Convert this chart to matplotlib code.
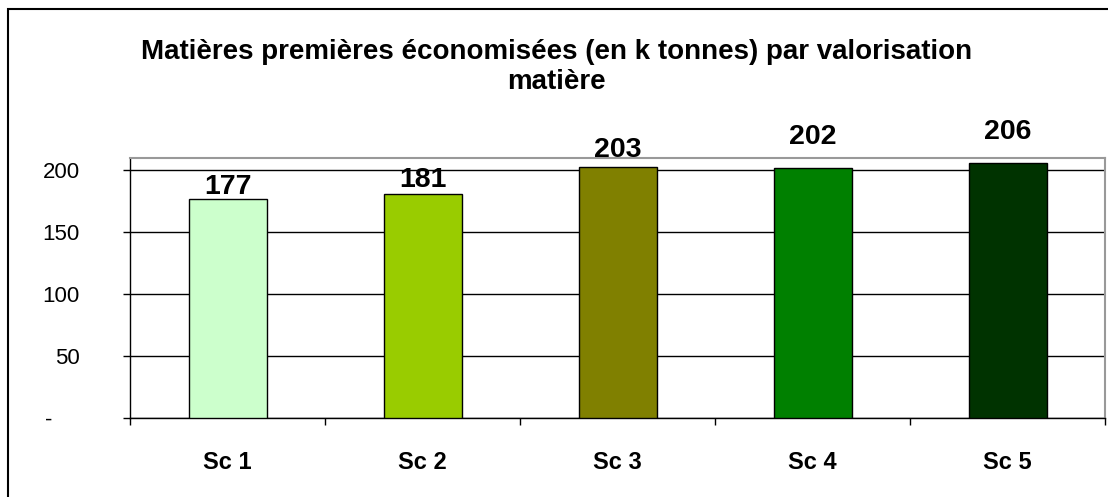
import matplotlib.pyplot as plt
from matplotlib.patches import Rectangle
from matplotlib.transforms import ScaledTranslation

# Données : matières premières économisées (k tonnes)
scenarios = ['Sc 1', 'Sc 2', 'Sc 3', 'Sc 4', 'Sc 5']
valeurs = [177, 181, 203, 202, 206]
couleurs = ['#CCFFCC', '#99CC00', '#808000', '#008000', '#003300']
yticks = [0, 50, 100, 150, 200]
ytick_labels = ['-', '50', '100', '150', '200']

plt.rcParams['font.family'] = ['Liberation Sans', 'DejaVu Sans']

fig = plt.figure(figsize=(11.08, 4.97), dpi=100)
ax = fig.add_axes([130 / 1108, 79 / 497, 975 / 1108, 260 / 497])

x = list(range(len(scenarios)))
bars = ax.bar(x, valeurs, width=0.4, color=couleurs, edgecolor='black',
              linewidth=1, zorder=3)

# étiquettes de valeur au-dessus des barres
decalages = [-1, 1, 3, 13, 13]
for b, v, d in zip(bars, valeurs, decalages):
    ax.annotate(str(v), (b.get_x() + b.get_width() / 2, v),
                xytext=(0, d), textcoords='offset points',
                ha='center', va='bottom', fontsize=20.5, fontweight='bold')

ax.set_xlim(-0.5, len(scenarios) - 0.5)
ax.set_ylim(0, 210)

ax.set_yticks(yticks)
ax.set_yticklabels(ytick_labels, fontsize=16)
ax.tick_params(axis='y', length=5, width=1, pad=31, direction='out')
# le tiret du zéro est décalé vers la gauche (format comptable)
lbl0 = ax.get_yticklabels()[0]
lbl0.set_transform(lbl0.get_transform() +
                   ScaledTranslation(-28 / 100, 0, fig.dpi_scale_trans))

ax.set_xticks(x)
ax.set_xticklabels(scenarios, fontsize=17, fontweight='bold')
ax.set_xticks([i - 0.5 for i in range(len(scenarios) + 1)], minor=True)
ax.tick_params(axis='x', which='major', length=0, pad=24)
ax.tick_params(axis='x', which='minor', length=5, width=1, direction='out')

ax.grid(axis='y', color='black', linewidth=1, zorder=1)
ax.set_axisbelow(True)

for side in ['left', 'bottom']:
    ax.spines[side].set_color('black')
    ax.spines[side].set_linewidth(1)
for side in ['top', 'right']:
    ax.spines[side].set_color('#999999')
    ax.spines[side].set_linewidth(1.5)

fig.text(0.502, 1 - 52 / 497, 'Matières premières économisées (en k tonnes) par valorisation',
         ha='center', va='center', fontsize=20, fontweight='bold')
fig.text(0.502, 1 - 82 / 497, 'matière',
         ha='center', va='center', fontsize=20, fontweight='bold')

# cadre du graphique
fig.patches.append(Rectangle((8 / 1108, -0.1), 1.2, 1 - 9 / 497 + 0.1,
                             transform=fig.transFigure, fill=False,
                             edgecolor='black', linewidth=1.5))

fig.savefig('out.png', dpi=100)
